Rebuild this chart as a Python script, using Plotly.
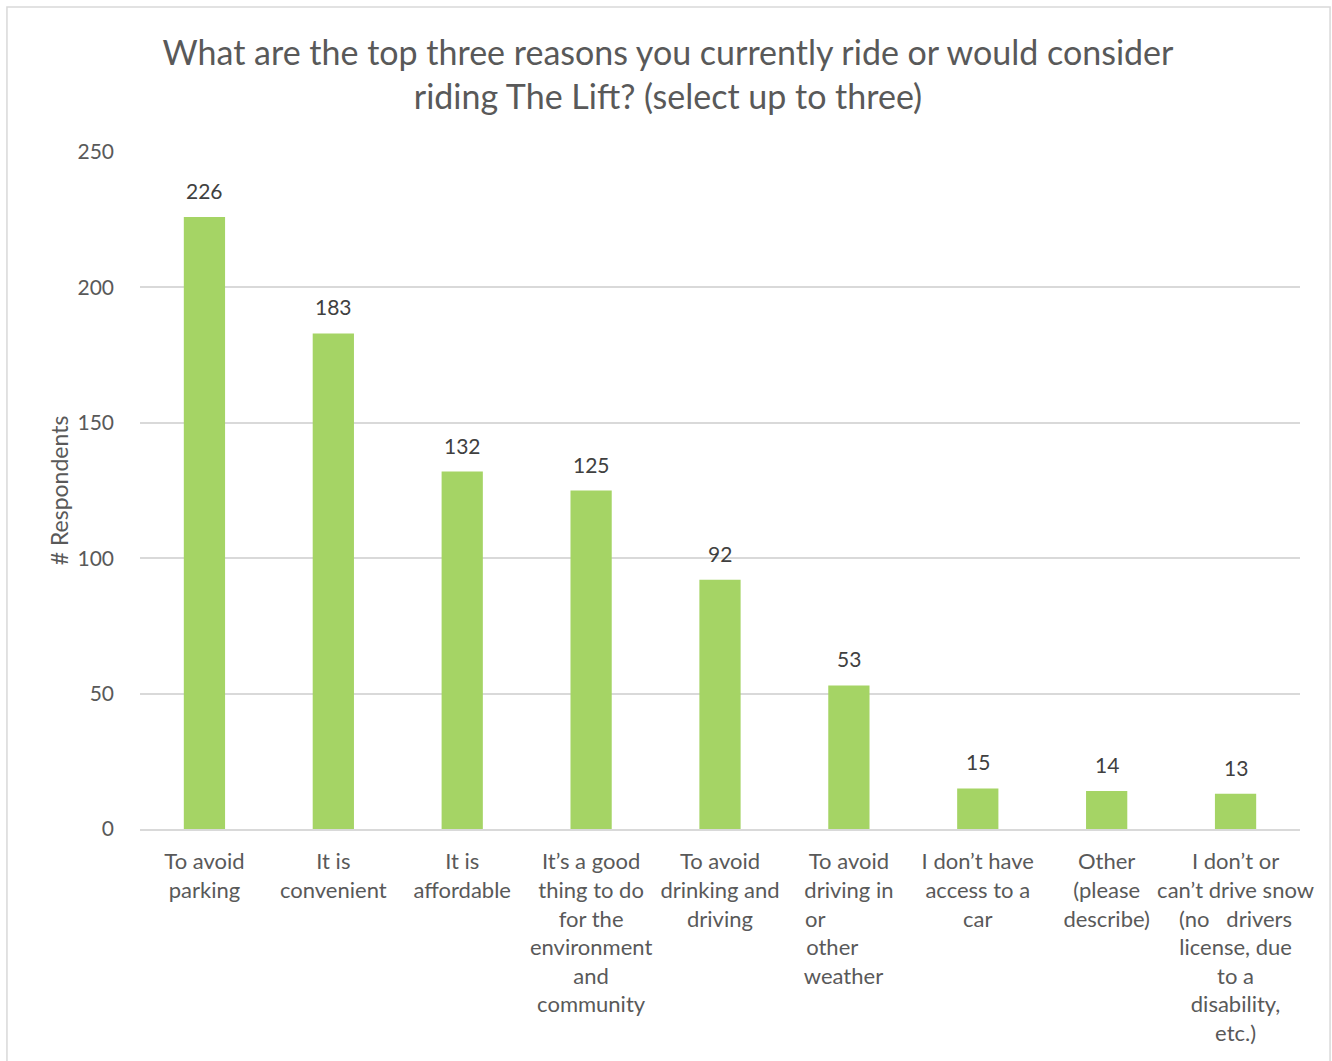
import plotly.graph_objects as go

NB = "\u00a0"  # non-breaking space used to pad short lines in a label

# Survey responses: reasons for riding The Lift
categories = [
    "To avoid<br>parking",
    "It is<br>convenient",
    "It is<br>affordable",
    "It’s a good<br>thing to do<br>for the<br>environment<br>and<br>community",
    "To avoid<br>drinking and<br>driving",
    "To avoid<br>driving in<br>or" + NB * 12 + "<br>other" + NB * 6 + "<br>weather" + NB * 2,
    "I don’t have<br>access to a<br>car",
    "Other<br>(please<br>describe)",
    "I don’t or<br>can’t drive snow<br>(no   drivers<br>license, due<br>to a<br>disability,<br>etc.)",
]
respondents = [226, 183, 132, 125, 92, 53, 15, 14, 13]
y_ticks = [0, 50, 100, 150, 200, 250]

FONT = "Lato"
GRAY = "#595959"
BAR = "#a5d465"

x_idx = list(range(len(categories)))

fig = go.Figure(
    go.Bar(
        x=x_idx,
        y=respondents,
        marker=dict(color=BAR, line=dict(width=0)),
        width=0.32,
        hoverinfo="skip",
    )
)

# value labels above each bar
for xi, v in zip(x_idx, respondents):
    fig.add_annotation(
        x=xi, y=v, text=str(v), showarrow=False,
        yanchor="bottom", yshift=12,
        font=dict(family=FONT, size=21, color="#404040"),
    )

# outer chart frame
fig.add_shape(
    type="rect", xref="paper", yref="paper",
    x0=-0.1147, x1=1.0259, y0=-0.36, y1=1.2142,
    line=dict(color="#d9d9d9", width=1.5), fillcolor="rgba(0,0,0,0)",
    layer="below",
)

fig.update_layout(
    width=1332, height=1061,
    margin=dict(l=140, r=32, t=152, b=232),
    paper_bgcolor="white", plot_bgcolor="white",
    showlegend=False,
    bargap=0.68,
    title=dict(
        text="What are the top three reasons you currently ride or would consider<br>riding The Lift? (select up to three)",
        x=0.5015, xanchor="center", y=0.939, yanchor="middle",
        font=dict(family=FONT, size=34, color=GRAY),
    ),
    font=dict(family=FONT, color=GRAY),
)

fig.update_xaxes(
    tickmode="array", tickvals=x_idx, ticktext=categories,
    range=[-0.5, len(categories) - 0.5],
    tickangle=0,
    showgrid=False, showline=True, linecolor="#d9d9d9", linewidth=2,
    ticks="", tickfont=dict(family=FONT, size=22, color=GRAY),
    ticklabelstandoff=12,
)
fig.update_yaxes(
    range=[0, 250], tickmode="array", tickvals=y_ticks,
    showgrid=True, gridcolor="#d9d9d9", gridwidth=1.5,
    zeroline=False, showline=False, ticks="",
    tickfont=dict(family=FONT, size=21, color=GRAY),
    ticklabelstandoff=25,
    title=dict(text="# Respondents", font=dict(family=FONT, size=23, color=GRAY), standoff=2),
)

fig.write_html("out.html")
